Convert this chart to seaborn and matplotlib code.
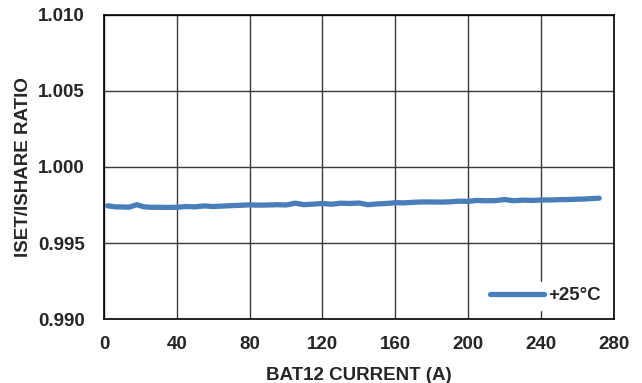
import seaborn as sns
import matplotlib.pyplot as plt
import pandas as pd

# Datos
current_a = [2, 6, 10, 14, 18, 22, 26, 30, 35, 40, 45, 50, 55, 60, 65, 70, 75, 80, 85, 90,
             95, 100, 105, 110, 115, 120, 125, 130, 135, 140, 145, 150, 155, 160, 165, 170,
             175, 180, 185, 190, 195, 200, 205, 210, 215, 220, 225, 230, 235, 240, 245, 250,
             255, 260, 265, 272]
ratio = [0.99745, 0.99738, 0.99737, 0.99736, 0.99752, 0.99738, 0.99735, 0.99735, 0.99734, 0.99735,
         0.99740, 0.99738, 0.99744, 0.99740, 0.99743, 0.99746, 0.99748, 0.99751, 0.99749, 0.99750,
         0.99752, 0.99750, 0.99762, 0.99752, 0.99756, 0.99760, 0.99755, 0.99762, 0.99760, 0.99763,
         0.99752, 0.99757, 0.99760, 0.99765, 0.99764, 0.99768, 0.99770, 0.99770, 0.99769, 0.99771,
         0.99775, 0.99774, 0.99780, 0.99778, 0.99779, 0.99786, 0.99778, 0.99782, 0.99780, 0.99783,
         0.99783, 0.99785, 0.99786, 0.99788, 0.99790, 0.99795]
series_label = '+25°C'

x_ticks = list(range(0, 281, 40))
y_ticks = [0.990, 0.995, 1.000, 1.005, 1.010]

sns.set_style('white')
plt.rcParams['font.family'] = ['Liberation Sans', 'DejaVu Sans']
plt.rcParams['font.weight'] = 'bold'

df = pd.DataFrame({'Current': current_a, 'Ratio': ratio, 'Serie': series_label})

fig = plt.figure(figsize=(6.42, 3.83), dpi=100)
ax = fig.add_axes([0.162, 0.167, 0.794, 0.794])

sns.lineplot(data=df, x='Current', y='Ratio', hue='Serie', palette=['#4a7ebb'],
             linewidth=3.8, ax=ax, zorder=3, legend=True)

ax.set_xlim(0, 280)
ax.set_ylim(0.990, 1.010)
ax.set_xticks(x_ticks)
ax.set_yticks(y_ticks)
ax.set_yticklabels([f'{v:.3f}' for v in y_ticks])
ax.grid(True, color='#3a3a3a', linewidth=1.0)
ax.tick_params(axis='x', length=0, labelsize=13.5, pad=12)
ax.tick_params(axis='y', length=0, labelsize=13.5, pad=14)
for lbl in ax.get_xticklabels() + ax.get_yticklabels():
    lbl.set_fontweight('bold')
for s in ax.spines.values():
    s.set_color('black')
    s.set_linewidth(1.2)

ax.set_xlabel('BAT12 CURRENT (A)', fontsize=13.5, fontweight='bold', labelpad=10)
ax.set_ylabel('ISET/ISHARE RATIO', fontsize=13.5, fontweight='bold', labelpad=4)

leg = ax.legend(loc='lower right', bbox_to_anchor=(0.985, 0.03), frameon=True,
                fancybox=False, framealpha=1, edgecolor='white', fontsize=13.5,
                handlelength=2.9, handletextpad=0.2, borderaxespad=0.0,
                borderpad=0.3)
for t in leg.get_texts():
    t.set_fontweight('bold')

fig.savefig('out.png', dpi=100)
plt.close(fig)
